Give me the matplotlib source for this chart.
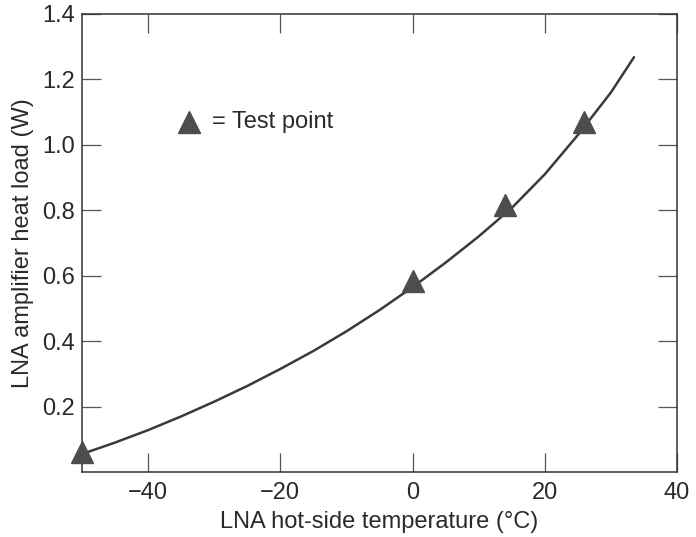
import matplotlib
matplotlib.use("Agg")
import matplotlib.pyplot as plt

# Fitted curve
curve_temp = [-50, -45, -40, -35, -30, -25, -20, -15, -10, -5, 0, 5, 10, 15, 20, 25, 30, 33.5]
curve_load = [0.055, 0.09, 0.128, 0.17, 0.215, 0.263, 0.315, 0.37, 0.43, 0.495, 0.565,
              0.64, 0.72, 0.807, 0.91, 1.03, 1.16, 1.268]

# Test points
test_temp = [-50, 0, 14, 26]
test_load = [0.06, 0.585, 0.815, 1.07]

xticks = [-40, -20, 0, 20, 40]
yticks = [0.2, 0.4, 0.6, 0.8, 1.0, 1.2, 1.4]

plt.rcParams['font.family'] = ['Liberation Sans', 'DejaVu Sans']
text_col = '#2a2a2a'
line_col = '#3a3a3a'
mk_col = '#4d4d4d'

fig = plt.figure(figsize=(6.96, 5.37), dpi=100)
ax = fig.add_axes([82/696, 1-472/537, (677-82)/696, (472-14)/537])

ax.plot(curve_temp, curve_load, color=line_col, lw=1.8, zorder=2,
        solid_joinstyle='round', solid_capstyle='round')
ax.plot(test_temp, test_load, linestyle='none', marker='^', markersize=16,
        color=mk_col, markeredgecolor=mk_col, clip_on=False, zorder=3)

ax.set_xlim(-50, 40)
ax.set_ylim(0, 1.4)
ax.set_xticks(xticks)
ax.set_yticks(yticks)
ax.set_yticklabels([f"{v:.1f}" for v in yticks])
ax.set_xticklabels([("\u2212" + str(abs(v))) if v < 0 else str(v) for v in xticks])

ax.tick_params(direction='in', length=13.5, width=0.9, color='#555555',
               top=True, right=True, labelsize=17, labelcolor=text_col)
ax.tick_params(axis='x', pad=7)
ax.tick_params(axis='y', pad=5)
for s in ax.spines.values():
    s.set_color('#333333')
    s.set_linewidth(1.1)

ax.set_xlabel("LNA hot-side temperature (\u00b0C)", fontsize=17, color=text_col, labelpad=5)
ax.set_ylabel("LNA amplifier heat load (W)", fontsize=17, color=text_col, labelpad=6)

# Legend-like annotation
ax.plot([-33.8], [1.07], linestyle='none', marker='^', markersize=16, color=mk_col)
ax.text(-30.4, 1.07, "= Test point", fontsize=17, color=text_col, va='center', ha='left')

fig.savefig("out.png", dpi=100)
